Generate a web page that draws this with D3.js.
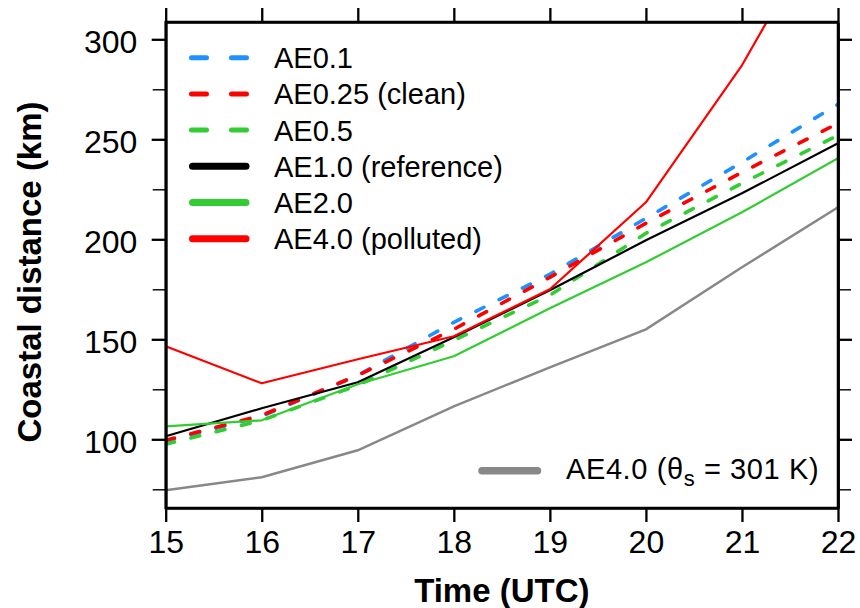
<!DOCTYPE html>
<html>
<head>
<meta charset="utf-8">
<script src="https://cdn.jsdelivr.net/npm/d3@7"></script>
<style>
  html, body { margin: 0; padding: 0; background: #fff; }
  svg { display: block; font-family: "Liberation Sans", Arial, sans-serif; }
</style>
</head>
<body>
<svg id="chart" width="860" height="608"></svg>
<script>
// ---- data ----
const times = [15, 16, 17, 18, 19, 20, 21, 22];
const ae01   = [99, 111.5, 132, 158.5, 182.5, 210.5, 238.5, 267.5];
const ae025  = [99.5, 112, 132, 155, 181, 208, 233.5, 258];
const ae05   = [97.5, 109.5, 127, 149.5, 172, 203, 228, 252];
const ae10   = [101.5, 115.5, 128.5, 151, 174.5, 199.5, 223, 248];
const ae20   = [106.5, 109.5, 127.5, 141.5, 165.5, 188.5, 213.5, 240.5];
const ae40   = [146.5, 128, 140, 151.5, 175, 218.5, 287, 371];
const ae40cold = [74.5, 81, 94.5, 116.5, 136, 155, 186, 216];
const yMajorTicks = [100, 150, 200, 250, 300];
const yMinorTicks = [75, 125, 175, 225, 275];
const xTicks = [15, 16, 17, 18, 19, 20, 21, 22];
const seriesNames = ["AE0.1", "AE0.25 (clean)", "AE0.5", "AE1.0 (reference)", "AE2.0", "AE4.0 (polluted)"];

const series = [
  { name: seriesNames[0], values: ae01,  color: "#1E90FF", dashed: true },
  { name: seriesNames[1], values: ae025, color: "#FF0000", dashed: true },
  { name: seriesNames[2], values: ae05,  color: "#32CD32", dashed: true },
  { name: seriesNames[3], values: ae10,  color: "#000000", dashed: false },
  { name: seriesNames[4], values: ae20,  color: "#32CD32", dashed: false },
  { name: seriesNames[5], values: ae40,  color: "#FF0000", dashed: false }
];

// ---- layout ----
const L = 165.7, R = 838, T = 22, B = 508;
const svg = d3.select("#chart");
const x = d3.scaleLinear().domain([15, 22]).range([L, R]);
const y = d3.scaleLinear().domain([65.65, 308.65]).range([B, T]);

svg.append("defs").append("clipPath").attr("id", "clip")
  .append("rect").attr("x", L).attr("y", T).attr("width", R - L).attr("height", B - T);

const line = d3.line().x((d, i) => x(times[i])).y(d => y(d));

const plot = svg.append("g").attr("clip-path", "url(#clip)");

// grey series
plot.append("path").datum(ae40cold)
  .attr("d", line).attr("fill", "none")
  .attr("stroke", "#888888").attr("stroke-width", 2.5);

series.forEach(s => {
  const p = plot.append("path").datum(s.values)
    .attr("d", line).attr("fill", "none")
    .attr("stroke", s.color)
    .attr("stroke-linejoin", "round");
  if (s.dashed) {
    p.attr("stroke-width", 3.6).attr("stroke-dasharray", "9,17").attr("stroke-linecap", "round");
  } else {
    p.attr("stroke-width", 2.2);
  }
});

// ---- axes ----
function styleAxis(g, w) {
  g.select(".domain").attr("stroke", "#000").attr("stroke-width", 2.5);
  g.selectAll(".tick line").attr("stroke", "#000").attr("stroke-width", w);
}

const fs = 32;
const gB = svg.append("g").attr("transform", `translate(0,${B})`)
  .call(d3.axisBottom(x).tickValues(xTicks).tickSize(14).tickSizeOuter(0).tickPadding(8.6).tickFormat(d3.format("d")));
styleAxis(gB, 2.3);
gB.selectAll("text").attr("font-size", fs).attr("fill", "#000").style("font-family", "Liberation Sans, Arial, sans-serif");

const gT = svg.append("g").attr("transform", `translate(0,${T})`)
  .call(d3.axisTop(x).tickValues(xTicks).tickSize(14).tickSizeOuter(0).tickFormat(""));
styleAxis(gT, 2.3);

const gL = svg.append("g").attr("transform", `translate(${L},0)`)
  .call(d3.axisLeft(y).tickValues(yMajorTicks).tickSize(14).tickSizeOuter(0).tickPadding(14.4).tickFormat(d3.format("d")));
styleAxis(gL, 2.3);
gL.selectAll("text").attr("font-size", fs).attr("fill", "#000").attr("dy", "0.4em").style("font-family", "Liberation Sans, Arial, sans-serif");

const gLm = svg.append("g").attr("transform", `translate(${L},0)`)
  .call(d3.axisLeft(y).tickValues(yMinorTicks).tickSize(13).tickSizeOuter(0).tickFormat(""));
styleAxis(gLm, 1.4);

const gR = svg.append("g").attr("transform", `translate(${R},0)`)
  .call(d3.axisRight(y).tickValues(yMajorTicks).tickSize(14).tickSizeOuter(0).tickFormat(""));
styleAxis(gR, 2.3);
const gRm = svg.append("g").attr("transform", `translate(${R},0)`)
  .call(d3.axisRight(y).tickValues(yMinorTicks).tickSize(13).tickSizeOuter(0).tickFormat(""));
styleAxis(gRm, 1.4);

// frame corners
svg.append("rect").attr("x", L).attr("y", T).attr("width", R - L).attr("height", B - T)
  .attr("fill", "none").attr("stroke", "#000").attr("stroke-width", 2.5);

// ---- axis titles ----
svg.append("text").attr("x", (L + R) / 2).attr("y", 602)
  .attr("text-anchor", "middle").attr("font-size", 33).attr("font-weight", "bold")
  .text("Time (UTC)");
svg.append("text").attr("transform", "translate(40.5,272) rotate(-90)")
  .attr("text-anchor", "middle").attr("font-size", 33).attr("font-weight", "bold")
  .text("Coastal distance (km)");

// ---- legend ----
const lg = svg.append("g");
const ly0 = 57.7, lstep = 36.2;
series.forEach((s, i) => {
  const yy = ly0 + i * lstep;
  const ln = lg.append("line").attr("y1", yy).attr("y2", yy)
    .attr("stroke", s.color).attr("stroke-linecap", "round");
  if (s.dashed) {
    ln.attr("x1", 191.5).attr("x2", 246.5).attr("stroke-width", 5).attr("stroke-dasharray", "15,25");
  } else {
    ln.attr("x1", 192.5).attr("x2", 246).attr("stroke-width", 7);
  }
  lg.append("text").attr("x", 274).attr("y", yy).attr("dy", "0.36em")
    .attr("font-size", 29).attr("fill", "#000").text(s.name);
});

// grey legend
const gy = 470.7;
lg.append("line").attr("x1", 482).attr("x2", 537.5).attr("y1", gy).attr("y2", gy)
  .attr("stroke", "#888888").attr("stroke-width", 7.5).attr("stroke-linecap", "round");
const gt = lg.append("text").attr("x", 566).attr("y", gy).attr("dy", "0.3em")
  .attr("font-size", 29).attr("fill", "#000").attr("letter-spacing", 0.6);
gt.append("tspan").text("AE4.0 (θ");
gt.append("tspan").attr("font-size", 22).attr("dy", 7).text("s");
gt.append("tspan").attr("dy", -7).text(" = 301 K)");
</script>
</body>
</html>
